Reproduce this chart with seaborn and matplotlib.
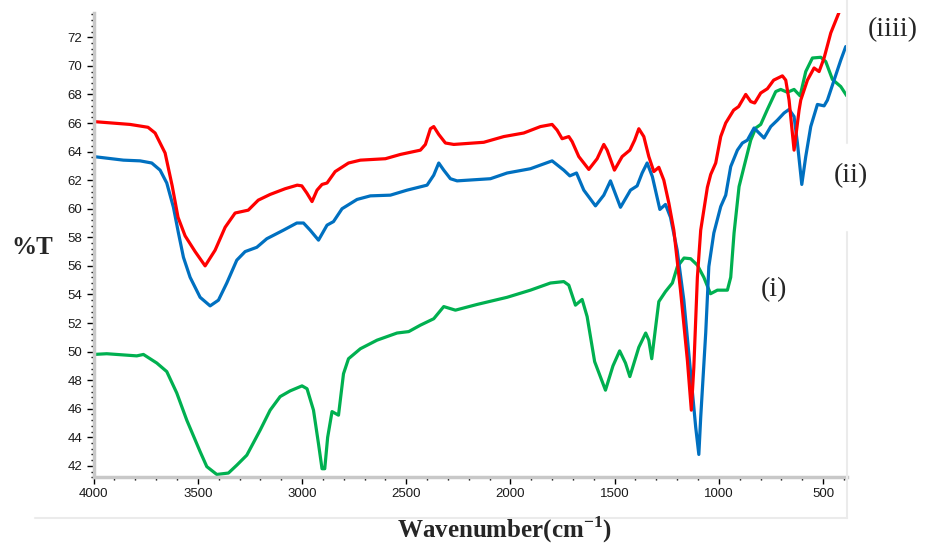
import matplotlib
matplotlib.use("Agg")
import matplotlib.pyplot as plt
import seaborn as sns
import pandas as pd
from matplotlib.ticker import MultipleLocator
from matplotlib.lines import Line2D

# ---- data (wavenumber in cm^-1, %T) ----
wn_red = [4000, 3825, 3739, 3705, 3657, 3623, 3595, 3561, 3513, 3465, 3417, 3369, 3321, 3258, 3210,
          3153, 3081, 3023, 3001, 2977, 2952, 2928, 2904, 2880, 2841, 2777, 2720, 2600, 2528, 2432,
          2408, 2384, 2368, 2344, 2312, 2272, 2128, 2032, 1936, 1856, 1800, 1776, 1752, 1720, 1704,
          1672, 1624, 1584, 1552, 1536, 1501, 1464, 1427, 1404, 1384, 1360, 1336, 1312, 1288, 1264,
          1240, 1216, 1184, 1151, 1132, 1120, 1103, 1087, 1055, 1039, 1015, 991, 967, 929, 905,
          871, 847, 828, 799, 767, 737, 695, 679, 663, 639, 615, 607, 575, 543, 519,
          495, 463, 423, 386]
t_red = [66.1, 65.9, 65.7, 65.3, 63.9, 61.6, 59.4, 58.1, 57.0, 56.0, 57.1, 58.7, 59.7, 59.9, 60.6,
         61.0, 61.4, 61.65, 61.6, 61.1, 60.5, 61.3, 61.7, 61.8, 62.6, 63.2, 63.4, 63.5, 63.8, 64.1,
         64.5, 65.6, 65.75, 65.2, 64.6, 64.5, 64.65, 65.05, 65.3, 65.75, 65.9, 65.5, 64.9, 65.05, 64.7,
         63.65, 62.75, 63.5, 64.5, 64.1, 62.7, 63.65, 64.1, 64.8, 65.6, 65.05, 63.65, 62.6, 62.9, 62.0,
         60.4, 58.5, 54.3, 49.4, 45.9, 48.9, 55.2, 58.5, 61.5, 62.4, 63.2, 65.05, 66.0, 66.9, 67.15,
         68.0, 67.5, 67.4, 68.1, 68.4, 69.0, 69.3, 69.0, 67.6, 64.1, 66.9, 67.6, 69.0, 69.85, 69.6,
         70.55, 72.3, 73.75, 75.0]

wn_blue = [4000, 3857, 3777, 3721, 3681, 3649, 3617, 3593, 3569, 3537, 3489, 3441, 3401, 3361, 3313,
           3273, 3217, 3169, 3089, 3025, 2993, 2961, 2921, 2880, 2849, 2808, 2736, 2672, 2576, 2496,
           2400, 2368, 2344, 2320, 2288, 2256, 2096, 2016, 1904, 1800, 1744, 1715, 1683, 1648, 1592,
           1552, 1520, 1472, 1424, 1392, 1368, 1344, 1319, 1283, 1256, 1232, 1200, 1168, 1135, 1111,
           1096, 1087, 1063, 1048, 1024, 991, 967, 943, 911, 887, 863, 831, 807, 783, 751,
           719, 687, 663, 639, 623, 602, 583, 559, 527, 495, 479, 447, 415, 391]
t_blue = [63.65, 63.4, 63.35, 63.2, 62.7, 61.8, 60.1, 58.3, 56.6, 55.2, 53.8, 53.2, 53.6, 54.8, 56.4,
          57.0, 57.3, 57.9, 58.5, 59.0, 59.0, 58.5, 57.8, 58.85, 59.1, 60.0, 60.65, 60.9, 60.95, 61.3,
          61.65, 62.35, 63.2, 62.7, 62.1, 61.95, 62.1, 62.5, 62.8, 63.35, 62.7, 62.3, 62.5, 61.3, 60.2,
          60.95, 61.95, 60.1, 61.3, 61.6, 62.5, 63.2, 62.25, 59.95, 60.3, 59.4, 57.1, 53.6, 48.45, 44.7,
          42.8, 45.4, 51.3, 55.95, 58.3, 60.15, 60.95, 62.95, 64.1, 64.6, 64.8, 65.65, 65.3, 64.95, 65.75,
          66.2, 66.7, 66.95, 66.45, 64.6, 61.7, 63.65, 65.75, 67.3, 67.2, 67.6, 69.0, 70.4, 71.35]

wn_green = [4000, 3937, 3889, 3793, 3761, 3745, 3697, 3649, 3601, 3553, 3489, 3457, 3409, 3353, 3313,
            3265, 3201, 3153, 3105, 3057, 3000, 2976, 2945, 2921, 2904, 2891, 2877, 2856, 2825, 2801,
            2777, 2720, 2640, 2544, 2488, 2432, 2368, 2320, 2264, 2160, 2016, 1904, 1808, 1744, 1720,
            1688, 1656, 1632, 1596, 1544, 1508, 1476, 1448, 1427, 1384, 1351, 1336, 1322, 1303, 1288,
            1256, 1223, 1199, 1167, 1135, 1103, 1072, 1040, 1007, 959, 943, 927, 903, 879, 847,
            823, 799, 767, 727, 703, 671, 639, 610, 583, 551, 511, 487, 455, 415, 386]
t_green = [49.8, 49.85, 49.8, 49.7, 49.8, 49.65, 49.2, 48.6, 47.1, 45.2, 43.0, 41.95, 41.4, 41.5, 42.05,
           42.75, 44.5, 45.9, 46.85, 47.25, 47.6, 47.4, 45.9, 43.55, 41.8, 41.8, 44.0, 45.8, 45.55, 48.45,
           49.5, 50.2, 50.8, 51.3, 51.4, 51.85, 52.3, 53.15, 52.9, 53.3, 53.8, 54.3, 54.8, 54.9, 54.65,
           53.25, 53.65, 52.45, 49.3, 47.3, 49.0, 50.05, 49.2, 48.25, 50.3, 51.3, 50.8, 49.5, 51.75, 53.5,
           54.2, 54.8, 55.95, 56.55, 56.5, 56.05, 55.2, 54.05, 54.3, 54.3, 55.2, 58.3, 61.55, 62.95, 64.8,
           65.65, 65.9, 66.95, 68.2, 68.35, 68.15, 68.35, 67.9, 69.6, 70.55, 70.6, 70.3, 69.05, 68.55, 67.9]

sample_names = ["(i)", "(ii)", "(iiii)"]
sample_colors = ["#00B050", "#0070C0", "#FF0000"]

# ---- styling ----
sns.set_theme(style="white")
plt.rcParams['font.family'] = ['Liberation Sans', 'DejaVu Sans']
plt.rcParams['mathtext.fontset'] = 'custom'
plt.rcParams['mathtext.rm'] = 'Liberation Serif'
plt.rcParams['mathtext.bf'] = 'Liberation Serif:bold'

frames = []
for name, wn, t in zip(sample_names, [wn_green, wn_blue, wn_red], [t_green, t_blue, t_red]):
    frames.append(pd.DataFrame({"wn": wn, "T": t, "sample": name}))
df = pd.concat(frames, ignore_index=True)

fig = plt.figure(figsize=(9.26, 5.46), dpi=100)
ax = fig.add_axes([0.1011, 0.1258, 0.8136, 0.8504])

sns.lineplot(data=df, x="wn", y="T", hue="sample", hue_order=sample_names,
             palette=dict(zip(sample_names, sample_colors)), sort=False, estimator=None,
             linewidth=2.3, legend=False, ax=ax)
for ln in ax.get_lines():
    ln.set_solid_joinstyle("round")
    ln.set_solid_capstyle("round")

ax.set_xlim(4000, 385)
ax.set_ylim(41.2, 73.7)
ax.xaxis.set_major_locator(MultipleLocator(500))
ax.xaxis.set_minor_locator(MultipleLocator(100))
ax.yaxis.set_major_locator(MultipleLocator(2))
ax.yaxis.set_minor_locator(MultipleLocator(0.4))
ax.set_xlabel("")
ax.set_ylabel("")
for s in ["top", "right"]:
    ax.spines[s].set_visible(False)
for s in ["left", "bottom"]:
    ax.spines[s].set_color("#c8c8c8")
    ax.spines[s].set_linewidth(2.5)
ax.tick_params(which="major", direction="out", length=5, width=1, color="black",
               labelsize=9.5, labelcolor="#1a1a1a", pad=3, left=True, bottom=True)
ax.tick_params(which="minor", direction="out", length=2.5, width=1, color="black",
               left=True, bottom=True)
ax.grid(False)

# axis titles
fig.text(0.0346, 0.546, "%T", fontsize=18, fontweight="bold", family="Liberation Serif",
         ha="center", va="center")
fig.text(0.545, 0.03, r"Wavenumber(cm$^{\mathbf{-1}}$)", fontsize=18, fontweight="bold",
         family="Liberation Serif", ha="center", va="center")

# faint outer frame lines
frame_col = "#ebebeb"
fig.lines.append(Line2D([0.0378, 0.9147], [0.0513, 0.0513], transform=fig.transFigure,
                        color=frame_col, lw=1.5))
fig.lines.append(Line2D([0.9147, 0.9147], [0.0513, 1 - 232 / 546], transform=fig.transFigure,
                        color=frame_col, lw=1.5))
fig.lines.append(Line2D([0.9147, 0.9147], [1 - 143 / 546, 1.0], transform=fig.transFigure,
                        color=frame_col, lw=1.5))

# curve labels
fig.text(0.9644, 0.945, "(iiii)", fontsize=20, family="Liberation Serif", ha="center", va="center")
fig.text(0.919, 0.678, "(ii)", fontsize=20, family="Liberation Serif", ha="center", va="center")
fig.text(0.836, 0.469, "(i)", fontsize=20, family="Liberation Serif", ha="center", va="center")

fig.savefig("out.png", dpi=100)
